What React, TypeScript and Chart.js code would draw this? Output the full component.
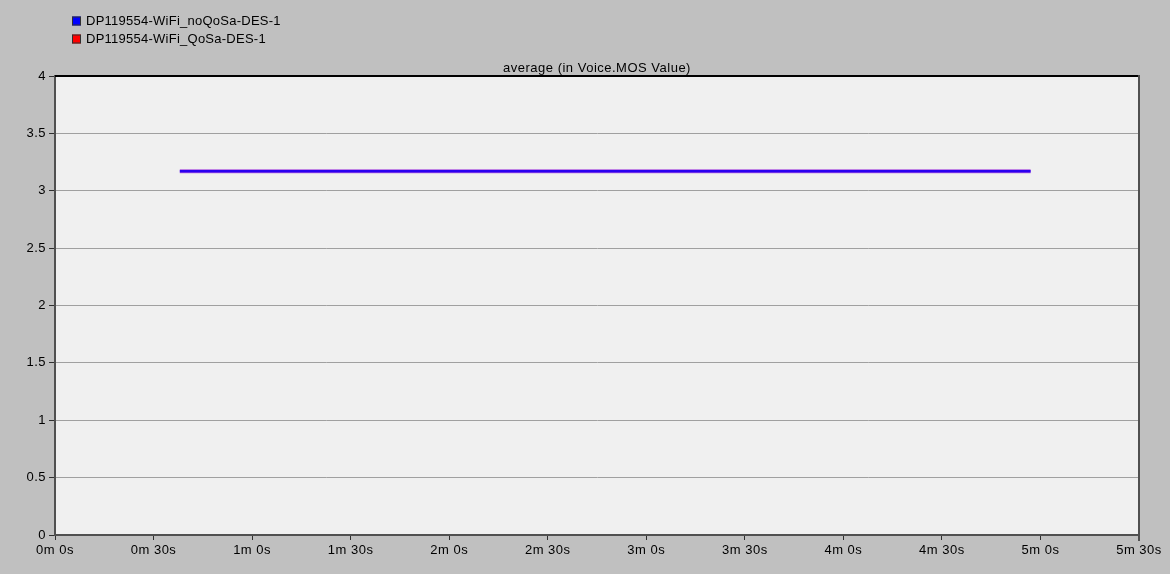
import React, { useEffect, useRef } from "react";
import { Chart, registerables } from "chart.js";

Chart.register(...registerables);

const seriesLabels = ["DP119554-WiFi_noQoSa-DES-1", "DP119554-WiFi_QoSa-DES-1"];
const seriesColors = ["#0000ff", "#ff0000"];
const times = [38, 60, 90, 120, 150, 180, 210, 240, 270, 297];
const noQoSValues = [3.17, 3.17, 3.17, 3.17, 3.17, 3.17, 3.17, 3.17, 3.17, 3.17];
const qoSValues = [3.17, 3.17, 3.17, 3.17, 3.17, 3.17, 3.17, 3.17, 3.17, 3.17];
const chartTitle = "average (in Voice.MOS Value)";
const xTickSeconds = [0, 30, 60, 90, 120, 150, 180, 210, 240, 270, 300, 330];
const yTicks = [0, 0.5, 1, 1.5, 2, 2.5, 3, 3.5, 4];

const FONT = '"Liberation Sans", Arial, sans-serif';

function fmtTime(s: number): string {
  const m = Math.floor(s / 60);
  const sec = Math.round(s - m * 60);
  return `${m}m ${sec}s`;
}

export default function App() {
  const ref = useRef<HTMLCanvasElement | null>(null);
  useEffect(() => {
    if (!ref.current) return;
    const overlay = {
      id: "overlay",
      afterDraw(chart: any) {
        const ctx = chart.ctx;
        const a = chart.chartArea;
        ctx.save();
        // top & right border
        ctx.strokeStyle = "#000000";
        ctx.lineWidth = 2;
        ctx.beginPath();
        ctx.moveTo(a.left, a.top);
        ctx.lineTo(a.right, a.top);
        ctx.stroke();
        ctx.strokeStyle = "#505050";
        ctx.beginPath();
        ctx.moveTo(a.right, a.top - 1);
        ctx.lineTo(a.right, a.bottom + 6);
        ctx.stroke();
        // title
        ctx.fillStyle = "#000000";
        ctx.font = `13px ${FONT}`;
        ctx.letterSpacing = "0.5px";
        ctx.textAlign = "center";
        ctx.textBaseline = "alphabetic";
        ctx.fillText(chartTitle, (a.left + a.right) / 2, a.top - 4);
        // legend
        ctx.letterSpacing = "0.25px";
        ctx.textAlign = "left";
        ctx.textBaseline = "middle";
        seriesLabels.forEach((lbl, i) => {
          const y = 21 + i * 18;
          ctx.fillStyle = seriesColors[i];
          ctx.fillRect(72, y - 4.5, 9, 9);
          ctx.strokeStyle = "#303030";
          ctx.lineWidth = 1;
          ctx.strokeRect(72.5, y - 4, 8, 8);
          ctx.fillStyle = "#000000";
          ctx.fillText(lbl, 86, y);
        });
        ctx.restore();
      },
    };
    const chart = new Chart(ref.current, {
      type: "line",
      data: {
        datasets: [
          {
            label: seriesLabels[0],
            data: times.map((t, i) => ({ x: t, y: noQoSValues[i] })),
            borderColor: "#2a00f0",
            borderWidth: 2.5,
            pointRadius: 0,
            order: 0,
          },
          {
            label: seriesLabels[1],
            data: times.map((t, i) => ({ x: t, y: qoSValues[i] })),
            borderColor: "#b060e0",
            borderWidth: 4,
            pointRadius: 0,
            order: 1,
          },
        ],
      },
      options: {
        responsive: false,
        animation: false,
        layout: { padding: { top: 76, right: 31, left: 0, bottom: 0 } },
        plugins: {
          legend: { display: false },
          title: { display: false },
          tooltip: { enabled: false },
        },
        scales: {
          x: {
            type: "linear",
            min: 0,
            max: 330,
            afterBuildTicks: (s: any) => {
              s.ticks = xTickSeconds.map((v) => ({ value: v }));
            },
            afterFit: (s: any) => {
              s.height = 39;
            },
            ticks: {
              autoSkip: false,
              maxRotation: 0,
              color: "#000000",
              font: { family: FONT, size: 13 },
              padding: 3,
              callback: (v: any) => fmtTime(Number(v)),
            },
            grid: {
              drawOnChartArea: false,
              drawTicks: true,
              tickLength: 5,
              tickColor: "#303030",
              tickWidth: 1,
            },
            border: { color: "#505050", width: 2 },
          },
          y: {
            min: 0,
            max: 4,
            afterBuildTicks: (s: any) => {
              s.ticks = yTicks.map((v) => ({ value: v }));
            },
            afterFit: (s: any) => {
              s.width = 55;
            },
            ticks: {
              color: "#000000",
              font: { family: FONT, size: 13 },
              padding: 3,
              callback: (v: any) => String(v),
            },
            grid: {
              color: "#a0a0a0",
              lineWidth: 1,
              drawTicks: true,
              tickLength: 6,
              tickColor: "#303030",
              tickWidth: 1,
            },
            border: { color: "#505050", width: 2 },
          },
        },
      },
      plugins: [
        {
          id: "plotbg",
          beforeDraw(chart: any) {
            const a = chart.chartArea;
            const ctx = chart.ctx;
            ctx.save();
            ctx.fillStyle = "#c0c0c0";
            ctx.fillRect(0, 0, chart.width, chart.height);
            ctx.fillStyle = "#f0f0f0";
            ctx.fillRect(a.left, a.top, a.right - a.left, a.bottom - a.top);
            ctx.restore();
            ctx.letterSpacing = "0.5px";
          },
        },
        overlay,
      ],
    } as any);
    return () => chart.destroy();
  }, []);
  return (
    <div style={{ position: "fixed", left: 0, top: 0, width: 1170, height: 574, background: "#c0c0c0" }}>
      <canvas ref={ref} width={1170} height={574} style={{ display: "block" }} />
    </div>
  );
}
